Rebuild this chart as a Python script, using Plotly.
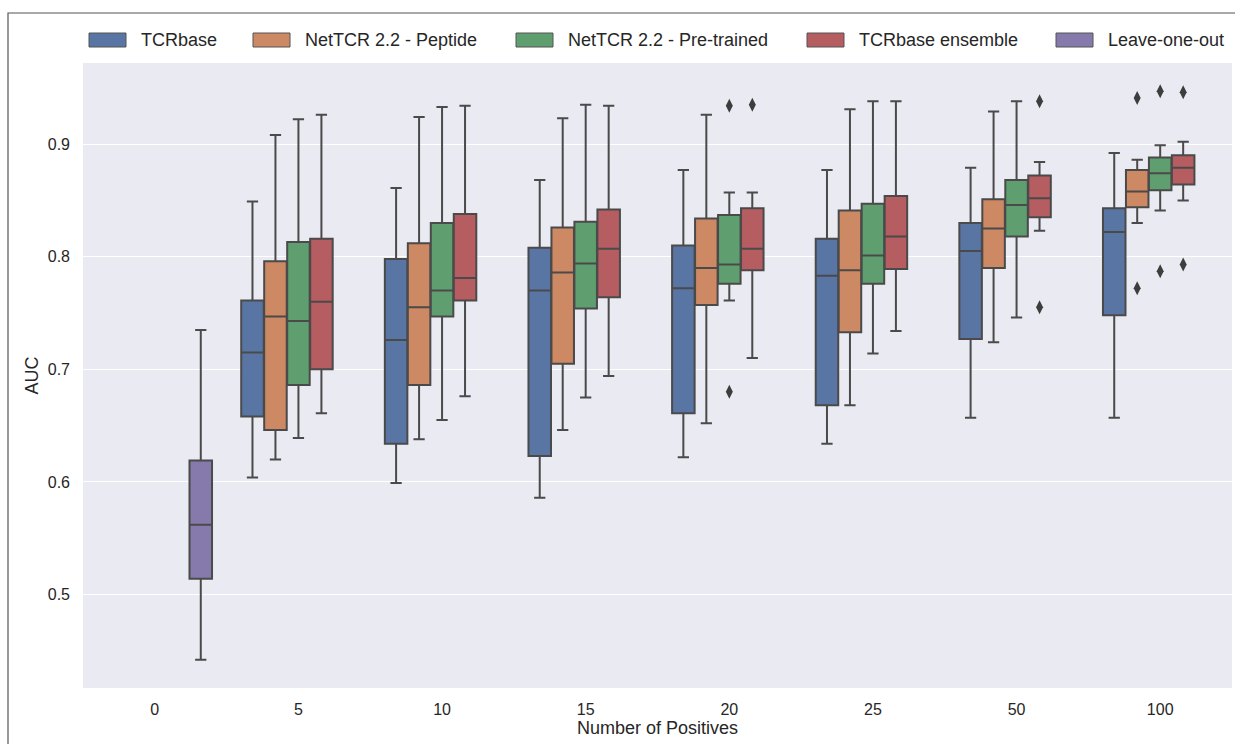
import plotly.graph_objects as go

# ---------------- data ----------------
categories = ["0", "5", "10", "15", "20", "25", "50", "100"]
series_names = ["TCRbase", "NetTCR 2.2 - Peptide", "NetTCR 2.2 - Pre-trained",
                "TCRbase ensemble", "Leave-one-out"]
colors = ["#5975A4", "#CC8963", "#5F9E6E", "#B55D60", "#857AAB"]

# categories where the four main methods are present ("5" .. "100")
main_cats = ["5", "10", "15", "20", "25", "50", "100"]

tcrbase_q1 = [0.658, 0.634, 0.623, 0.661, 0.668, 0.727, 0.748]
tcrbase_med = [0.715, 0.726, 0.770, 0.772, 0.783, 0.805, 0.822]
tcrbase_q3 = [0.761, 0.798, 0.808, 0.810, 0.816, 0.830, 0.843]
tcrbase_lo = [0.604, 0.599, 0.586, 0.622, 0.634, 0.657, 0.657]
tcrbase_hi = [0.849, 0.861, 0.868, 0.877, 0.877, 0.879, 0.892]
tcrbase_out_cat = []
tcrbase_out_val = []

pep_q1 = [0.646, 0.686, 0.705, 0.757, 0.733, 0.790, 0.844]
pep_med = [0.747, 0.755, 0.786, 0.790, 0.788, 0.825, 0.858]
pep_q3 = [0.796, 0.812, 0.826, 0.834, 0.841, 0.851, 0.877]
pep_lo = [0.620, 0.638, 0.646, 0.652, 0.668, 0.724, 0.830]
pep_hi = [0.908, 0.924, 0.923, 0.926, 0.931, 0.929, 0.886]
pep_out_cat = ["100", "100"]
pep_out_val = [0.941, 0.772]

pre_q1 = [0.686, 0.747, 0.754, 0.776, 0.776, 0.818, 0.859]
pre_med = [0.743, 0.770, 0.794, 0.793, 0.801, 0.846, 0.874]
pre_q3 = [0.813, 0.830, 0.831, 0.837, 0.847, 0.868, 0.888]
pre_lo = [0.639, 0.655, 0.675, 0.761, 0.714, 0.746, 0.841]
pre_hi = [0.922, 0.933, 0.935, 0.857, 0.938, 0.938, 0.899]
pre_out_cat = ["20", "20", "100", "100"]
pre_out_val = [0.934, 0.680, 0.947, 0.787]

ens_q1 = [0.700, 0.761, 0.764, 0.788, 0.789, 0.835, 0.864]
ens_med = [0.760, 0.781, 0.807, 0.807, 0.818, 0.852, 0.879]
ens_q3 = [0.816, 0.838, 0.842, 0.843, 0.854, 0.872, 0.890]
ens_lo = [0.661, 0.676, 0.694, 0.710, 0.734, 0.823, 0.850]
ens_hi = [0.926, 0.934, 0.934, 0.857, 0.938, 0.884, 0.902]
ens_out_cat = ["20", "50", "50", "100", "100"]
ens_out_val = [0.935, 0.938, 0.755, 0.946, 0.793]

loo_cats = ["0"]
loo_q1 = [0.514]
loo_med = [0.562]
loo_q3 = [0.619]
loo_lo = [0.442]
loo_hi = [0.735]
loo_out_cat = []
loo_out_val = []

y_ticks = [0.5, 0.6, 0.7, 0.8, 0.9]

# ---------------- layout helpers ----------------
W, H = 1235, 744
L, R, T, B = 83, 3, 63, 56
PW, PH = W - L - R, H - T - B

def px_x(p):
    return (p - L) / PW

def px_y(p):
    return (H - B - p) / PH

n_hue = len(series_names)
hue_w = 0.8 / n_hue
offsets = [-0.4 + hue_w * (k + 0.5) for k in range(n_hue)]
cat_idx = {c: i for i, c in enumerate(categories)}

LINE = "#4a4a4a"
FONT = "Liberation Sans, Arial, sans-serif"
TXT = "#262626"

series = [
    (main_cats, tcrbase_q1, tcrbase_med, tcrbase_q3, tcrbase_lo, tcrbase_hi, tcrbase_out_cat, tcrbase_out_val),
    (main_cats, pep_q1, pep_med, pep_q3, pep_lo, pep_hi, pep_out_cat, pep_out_val),
    (main_cats, pre_q1, pre_med, pre_q3, pre_lo, pre_hi, pre_out_cat, pre_out_val),
    (main_cats, ens_q1, ens_med, ens_q3, ens_lo, ens_hi, ens_out_cat, ens_out_val),
    (loo_cats, loo_q1, loo_med, loo_q3, loo_lo, loo_hi, loo_out_cat, loo_out_val),
]

fig = go.Figure()
for k, (cats, q1, med, q3, lo, hi, oc, ov) in enumerate(series):
    xs = [cat_idx[c] + offsets[k] for c in cats]
    fig.add_trace(go.Box(
        x=xs, q1=q1, median=med, q3=q3, lowerfence=lo, upperfence=hi,
        name=series_names[k], width=hue_w * 0.98,
        fillcolor=colors[k], line=dict(color=LINE, width=2),
        whiskerwidth=0.5, boxpoints=False, showlegend=False,
    ))
    if oc:
        fig.add_trace(go.Scatter(
            x=[cat_idx[c] + offsets[k] for c in oc], y=ov, mode="markers",
            marker=dict(symbol="diamond-tall", size=10, color="#3d3d3d",
                        line=dict(width=0)),
            showlegend=False, hoverinfo="y",
        ))

# ---------------- manual legend ----------------
shapes = []
annotations = []
sw_x0 = [89, 253, 516, 807, 1056]
leg_y = 40
for k, name in enumerate(series_names):
    x0 = sw_x0[k]
    shapes.append(dict(type="rect", xref="paper", yref="paper",
                       x0=px_x(x0), x1=px_x(x0 + 37),
                       y0=px_y(leg_y + 7), y1=px_y(leg_y - 7),
                       fillcolor=colors[k], line=dict(color="#555555", width=1)))
    annotations.append(dict(xref="paper", yref="paper", x=px_x(x0 + 50), y=px_y(leg_y),
                            xanchor="left", yanchor="middle", showarrow=False,
                            text=name, font=dict(family=FONT, size=18, color=TXT)))

# outer frame
shapes.append(dict(type="rect", xref="paper", yref="paper",
                   x0=px_x(8), x1=px_x(W + 20), y0=px_y(H + 20), y1=px_y(13),
                   line=dict(color="#555555", width=1.2), fillcolor="rgba(0,0,0,0)",
                   layer="below"))

fig.update_layout(
    width=W, height=H,
    margin=dict(l=L, r=R, t=T, b=B),
    paper_bgcolor="white", plot_bgcolor="#EAEAF2",
    font=dict(family=FONT, size=16, color=TXT),
    boxmode="overlay",
    shapes=shapes, annotations=annotations,
    xaxis=dict(range=[-0.5, len(categories) - 0.5], tickmode="array",
               tickvals=list(range(len(categories))), ticktext=categories,
               showgrid=False, zeroline=False, ticks="", showline=False,
               tickfont=dict(size=16, color=TXT), ticklabelstandoff=10,
               title=dict(text="Number of Positives", font=dict(size=18, color=TXT),
                          standoff=3)),
    yaxis=dict(range=[0.417, 0.972], tickmode="array", tickvals=y_ticks,
               ticktext=[f"{v:.1f}" for v in y_ticks],
               showgrid=True, gridcolor="white", gridwidth=1.2, zeroline=False,
               ticks="", showline=False, tickfont=dict(size=16, color=TXT),
               ticklabelstandoff=12,
               title=dict(text="AUC", font=dict(size=18, color=TXT), standoff=4)),
)

fig.write_html("out.html", config={"displayModeBar": False},
               post_script="document.body.style.margin='0';document.body.style.overflow='hidden';")
